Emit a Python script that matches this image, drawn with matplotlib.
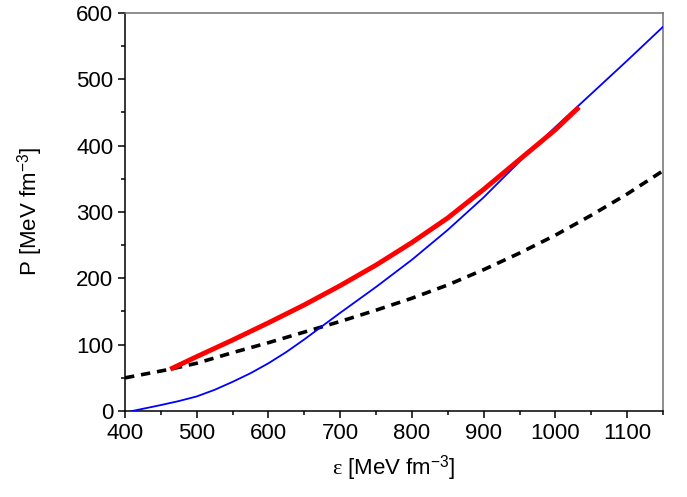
import matplotlib
matplotlib.use('Agg')
import matplotlib.pyplot as plt
from matplotlib.ticker import MultipleLocator

plt.rcParams['font.family'] = ['Liberation Sans', 'DejaVu Sans']
plt.rcParams['mathtext.fontset'] = 'custom'
plt.rcParams['mathtext.rm'] = 'Liberation Sans'
plt.rcParams['mathtext.it'] = 'Liberation Serif'

# blue solid curve
eps_blue = [410, 450, 475, 500, 525, 550, 575, 600, 625, 650, 700, 750, 800, 850, 900, 950, 1000, 1050, 1100, 1150]
p_blue = [0, 9, 15, 22, 32, 44, 57, 72, 89, 108, 148, 187, 228, 273, 322, 376, 428, 478, 528, 579]

# red thick curve
eps_red = [463, 500, 550, 600, 650, 700, 750, 800, 850, 900, 950, 1000, 1033]
p_red = [63, 82, 107, 133, 160, 189, 220, 254, 291, 334, 379, 424, 458]

# black dashed curve
eps_dash = [400, 463, 500, 550, 600, 650, 700, 750, 800, 850, 900, 950, 1000, 1050, 1100, 1150]
p_dash = [50, 63, 72, 88, 103, 119, 135, 152, 170, 190, 213, 238, 265, 295, 327, 362]

fig = plt.figure(figsize=(6.87, 4.97), dpi=100)
ax = fig.add_axes([0.182, 0.173, 0.783, 0.801])

ax.plot(eps_dash, p_dash, color='black', lw=2.6, ls=(0, (2.6, 1.9)), zorder=2)
ax.plot(eps_blue, p_blue, color='blue', lw=1.3, zorder=3)
ax.plot(eps_red, p_red, color='red', lw=3.5, solid_capstyle='butt', zorder=4)

ax.set_xlim(400, 1150)
ax.set_ylim(0, 600)
ax.xaxis.set_major_locator(MultipleLocator(100))
ax.xaxis.set_minor_locator(MultipleLocator(50))
ax.yaxis.set_major_locator(MultipleLocator(100))
ax.yaxis.set_minor_locator(MultipleLocator(50))

ax.tick_params(which='both', direction='out', top=False, right=False,
               width=1.1, labelsize=16)
ax.tick_params(which='major', length=5)
ax.tick_params(which='minor', length=3)

for s in ['left', 'bottom']:
    ax.spines[s].set_linewidth(1.1)
    ax.spines[s].set_color('black')
for s in ['top', 'right']:
    ax.spines[s].set_linewidth(1.1)
    ax.spines[s].set_color('#707070')

ax.set_xlabel(r'$\varepsilon$ [MeV fm$^{-3}$]', fontsize=16, labelpad=7)
ax.set_ylabel(r'P [MeV fm$^{-3}$]', fontsize=16, labelpad=22)

fig.savefig('out.png', dpi=100)
